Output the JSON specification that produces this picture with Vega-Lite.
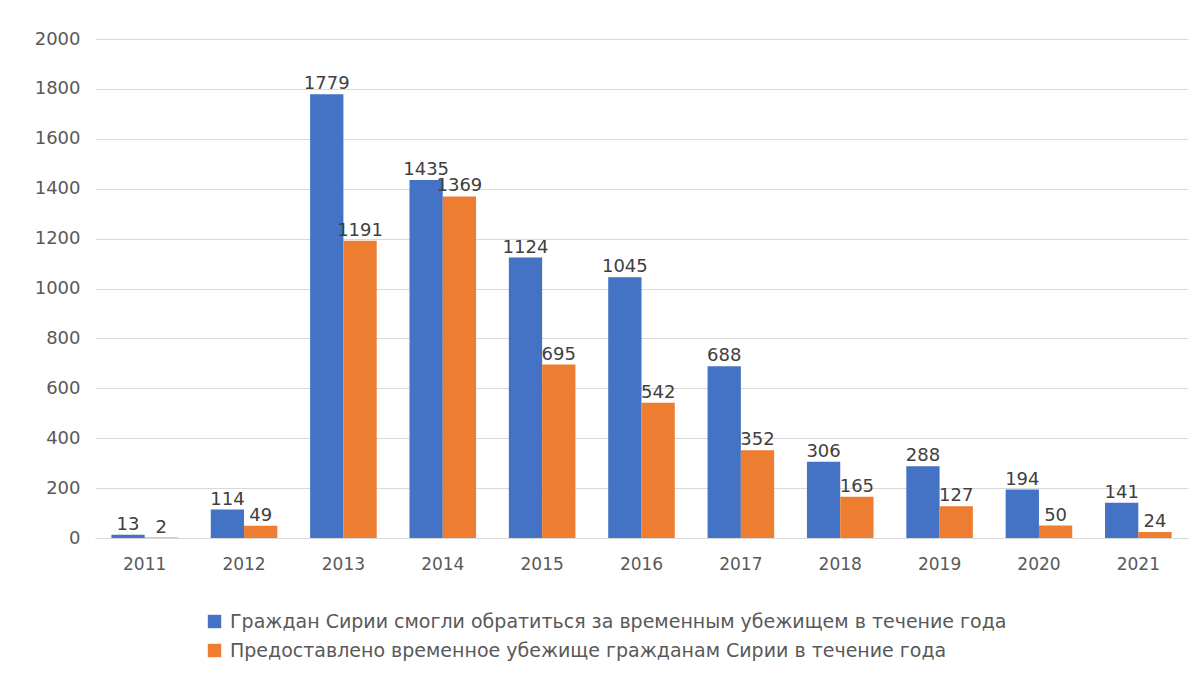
{
  "$schema": "https://vega.github.io/schema/vega-lite/v6.json",
  "autosize": "none",
  "width": 1093,
  "height": 499,
  "padding": {"left": 95, "top": 39, "right": 15, "bottom": 144},
  "background": "white",
  "config": {
    "view": {"stroke": null},
    "font": "DejaVu Sans"
  },
  "data": {
    "values": [
      {"year": "2011", "series": "Граждан Сирии смогли обратиться за временным убежищем в течение года", "k": 1, "value": 13},
      {"year": "2011", "series": "Предоставлено временное убежище гражданам Сирии в течение года", "k": 2, "value": 2},
      {"year": "2012", "series": "Граждан Сирии смогли обратиться за временным убежищем в течение года", "k": 1, "value": 114},
      {"year": "2012", "series": "Предоставлено временное убежище гражданам Сирии в течение года", "k": 2, "value": 49},
      {"year": "2013", "series": "Граждан Сирии смогли обратиться за временным убежищем в течение года", "k": 1, "value": 1779},
      {"year": "2013", "series": "Предоставлено временное убежище гражданам Сирии в течение года", "k": 2, "value": 1191},
      {"year": "2014", "series": "Граждан Сирии смогли обратиться за временным убежищем в течение года", "k": 1, "value": 1435},
      {"year": "2014", "series": "Предоставлено временное убежище гражданам Сирии в течение года", "k": 2, "value": 1369},
      {"year": "2015", "series": "Граждан Сирии смогли обратиться за временным убежищем в течение года", "k": 1, "value": 1124},
      {"year": "2015", "series": "Предоставлено временное убежище гражданам Сирии в течение года", "k": 2, "value": 695},
      {"year": "2016", "series": "Граждан Сирии смогли обратиться за временным убежищем в течение года", "k": 1, "value": 1045},
      {"year": "2016", "series": "Предоставлено временное убежище гражданам Сирии в течение года", "k": 2, "value": 542},
      {"year": "2017", "series": "Граждан Сирии смогли обратиться за временным убежищем в течение года", "k": 1, "value": 688},
      {"year": "2017", "series": "Предоставлено временное убежище гражданам Сирии в течение года", "k": 2, "value": 352},
      {"year": "2018", "series": "Граждан Сирии смогли обратиться за временным убежищем в течение года", "k": 1, "value": 306},
      {"year": "2018", "series": "Предоставлено временное убежище гражданам Сирии в течение года", "k": 2, "value": 165},
      {"year": "2019", "series": "Граждан Сирии смогли обратиться за временным убежищем в течение года", "k": 1, "value": 288},
      {"year": "2019", "series": "Предоставлено временное убежище гражданам Сирии в течение года", "k": 2, "value": 127},
      {"year": "2020", "series": "Граждан Сирии смогли обратиться за временным убежищем в течение года", "k": 1, "value": 194},
      {"year": "2020", "series": "Предоставлено временное убежище гражданам Сирии в течение года", "k": 2, "value": 50},
      {"year": "2021", "series": "Граждан Сирии смогли обратиться за временным убежищем в течение года", "k": 1, "value": 141},
      {"year": "2021", "series": "Предоставлено временное убежище гражданам Сирии в течение года", "k": 2, "value": 24}
    ]
  },
  "encoding": {
    "x": {
      "field": "year", "type": "nominal", "sort": null,
      "scale": {"paddingInner": 0.33, "paddingOuter": 0.165},
      "axis": {
        "title": null, "labelAngle": 0, "ticks": false, "domain": true,
        "domainColor": "#d9d9d9", "domainWidth": 1.2, "labelFontSize": 17, "labelColor": "#595959",
        "labelPadding": 18, "labelFont": "DejaVu Sans"
      }
    },
    "xOffset": {"field": "k", "type": "nominal", "scale": {"paddingInner": 0}},
    "y": {
      "field": "value", "type": "quantitative",
      "scale": {"domain": [0, 2000]},
      "axis": {
        "title": null, "values": [0,200,400,600,800,1000,1200,1400,1600,1800,2000],
        "format": "d", "labelOverlap": false,
        "ticks": false, "domain": false, "gridColor": "#d9d9d9", "gridWidth": 1.2,
        "labelFontSize": 18, "labelColor": "#595959", "labelPadding": 15, "labelFont": "DejaVu Sans"
      }
    }
  },
  "layer": [
    {
      "mark": {"type": "bar"},
      "encoding": {
        "color": {
          "field": "series", "type": "nominal", "sort": null,
          "scale": {
            "domain": ["Граждан Сирии смогли обратиться за временным убежищем в течение года", "Предоставлено временное убежище гражданам Сирии в течение года"],
            "range": ["#4472C4", "#ED7D31"]
          },
          "legend": {
            "title": null, "orient": "none", "legendX": 110, "legendY": 573,
            "direction": "vertical", "symbolType": "square", "symbolSize": 180,
            "symbolStrokeWidth": 0, "labelFontSize": 19, "labelColor": "#595959",
            "labelFont": "DejaVu Sans", "rowPadding": 9, "labelOffset": 6, "labelLimit": 1000
          }
        }
      }
    },
    {
      "mark": {"type": "text", "baseline": "bottom", "dy": -1, "fontSize": 18, "color": "#404040", "font": "DejaVu Sans"},
      "encoding": {
        "text": {"field": "value", "type": "quantitative"}
      }
    }
  ]
}
